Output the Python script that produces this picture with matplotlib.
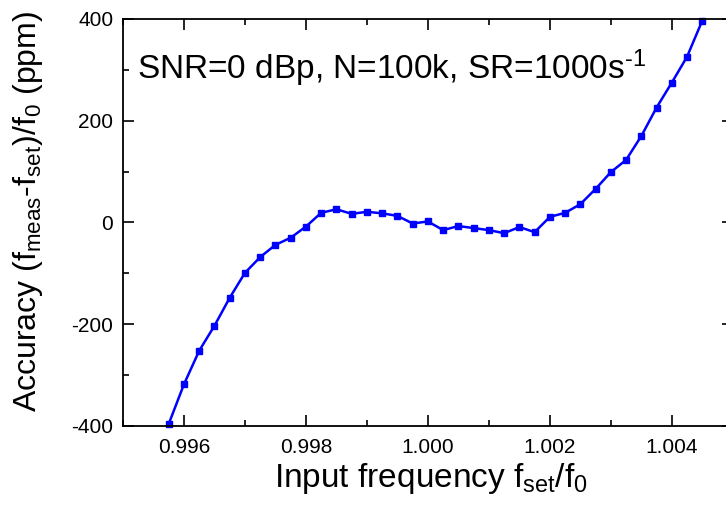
import numpy as np
from matplotlib import pyplot as plt
from matplotlib.ticker import MultipleLocator

plt.rcParams['font.family'] = ['Liberation Sans', 'DejaVu Sans']
plt.rcParams['mathtext.fontset'] = 'custom'
plt.rcParams['mathtext.rm'] = 'Liberation Sans'
plt.rcParams['mathtext.it'] = 'Liberation Sans'
plt.rcParams['axes.unicode_minus'] = False

# f_set/f0, step 0.00025
freq = 0.99575 + 0.00025 * np.arange(36)
accuracy = [-396, -318, -252, -203, -148, -99, -68, -44, -30, -8,
            19, 26, 17, 21, 18, 13, -2, 2, -15, -7,
            -11, -15, -21, -9, -19, 11, 19, 36, 66, 99,
            123, 170, 226, 275, 326, 397]

fig = plt.figure(figsize=(7.26, 5.13), dpi=100)
ax = fig.add_axes([0.1694, 0.1696, 0.840, 0.7934])

ax.plot(freq, accuracy, color='#0000ff', linewidth=1.8,
        marker='s', markersize=4.8, clip_on=False)

ax.set_xlim(0.995, 1.005)
ax.set_ylim(-400, 400)
ax.xaxis.set_major_locator(MultipleLocator(0.002))
ax.xaxis.set_minor_locator(MultipleLocator(0.001))
ax.yaxis.set_major_locator(MultipleLocator(200))
ax.yaxis.set_minor_locator(MultipleLocator(100))
ax.xaxis.set_major_formatter(plt.FormatStrFormatter('%.3f'))

ax.tick_params(which='both', direction='in', top=True, right=True,
               labelsize=15, width=1.2)
ax.tick_params(which='major', length=8)
ax.tick_params(which='minor', length=4.5)
ax.tick_params(axis='y', pad=7)
ax.tick_params(axis='x', pad=9)
for s in ax.spines.values():
    s.set_linewidth(1.3)

ax.set_xlabel(r'Input frequency f$_{\mathregular{set}}$/f$_{\mathregular{0}}$', fontsize=24)
ax.xaxis.set_label_coords(0.505, -0.085)
ax.set_ylabel(r'Accuracy (f$_{\mathregular{meas}}$-f$_{\mathregular{set}}$)/f$_{\mathregular{0}}$ (ppm)', fontsize=23)
ax.yaxis.set_label_coords(-0.128, 0.526)

ax.text(0.023, 0.853, r'SNR=0 dBp, N=100k, SR=1000s$^{\text{-1}}$',
        transform=ax.transAxes, fontsize=24, va='baseline', ha='left')

fig.savefig('out.png', dpi=100)
